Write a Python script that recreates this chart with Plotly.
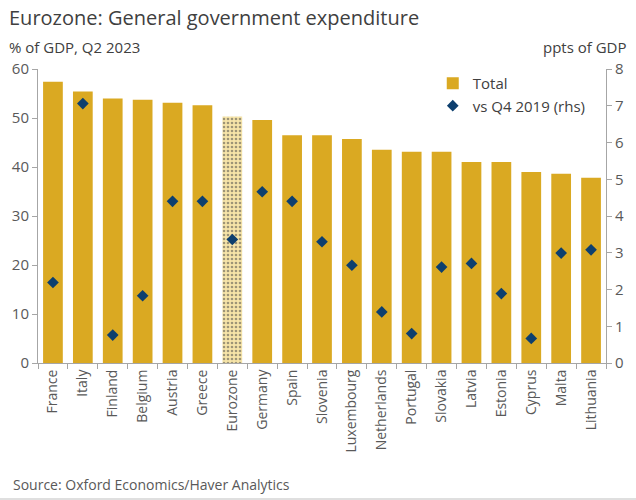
import plotly.graph_objects as go

countries = ["France", "Italy", "Finland", "Belgium", "Austria", "Greece", "Eurozone",
             "Germany", "Spain", "Slovenia", "Luxembourg", "Netherlands", "Portugal",
             "Slovakia", "Latvia", "Estonia", "Cyprus", "Malta", "Lithuania"]
total = [57.4, 55.4, 54.0, 53.7, 53.1, 52.6, 50.3, 49.6, 46.5, 46.5, 45.7, 43.5,
         43.1, 43.1, 41.0, 41.0, 39.0, 38.6, 37.8]
vs_q4_2019 = [2.19, 7.06, 0.76, 1.83, 4.40, 4.40, 3.36, 4.66, 4.40, 3.30, 2.66, 1.39,
              0.80, 2.61, 2.71, 1.89, 0.67, 2.99, 3.08]

GOLD = "#DAA922"
LIGHT = "#F6E4A8"
NAVY = "#0D3F6E"
GRAY = "#595959"
AX = "#A6A6A6"
FONT = "Open Sans"

bar_colors = [LIGHT if c == "Eurozone" else GOLD for c in countries]
shapes = ["." if c == "Eurozone" else "" for c in countries]

fig = go.Figure()
fig.add_trace(go.Bar(
    x=countries, y=total, name="Total", width=0.66,
    marker=dict(color=bar_colors, line=dict(width=0),
                pattern=dict(shape=shapes, fgcolor=GOLD, fillmode="overlay",
                             size=4, solidity=0.35)),
    yaxis="y",
))
fig.add_trace(go.Scatter(
    x=countries, y=vs_q4_2019, name="vs Q4 2019 (rhs)", mode="markers",
    marker=dict(symbol="diamond", color=NAVY, size=9),
    yaxis="y2",
))
fig.update_layout(
    width=636, height=500, autosize=False,
    margin=dict(l=38, r=30, t=69, b=137, autoexpand=False),
    paper_bgcolor="white", plot_bgcolor="white",
    font=dict(family=FONT, color=GRAY, size=14),
    showlegend=True,
    legend=dict(x=0.695, y=1.007, xanchor="left", yanchor="top",
                font=dict(size=15, color="#404040"), bgcolor="rgba(0,0,0,0)",
                tracegroupgap=2),
    xaxis=dict(tickangle=-90, tickson="boundaries", ticks="outside", ticklen=5,
               tickcolor=AX, showline=True, linecolor=AX, linewidth=1,
               tickfont=dict(size=14, color=GRAY), showgrid=False,
               range=[-0.5, 18.5], automargin=False),
    yaxis=dict(range=[0, 60], dtick=10, ticks="outside", ticklen=5, tickcolor=AX,
               showline=True, linecolor=AX, linewidth=1, showgrid=False,
               zeroline=False, tickfont=dict(size=15, color=GRAY), automargin=False),
    yaxis2=dict(range=[0, 8], dtick=1, ticks="outside", ticklen=5, tickcolor=AX,
                showline=True, linecolor=AX, linewidth=1, showgrid=False,
                zeroline=False, overlaying="y", side="right",
                tickfont=dict(size=15, color=GRAY), automargin=False),
)

fig.add_annotation(text="Eurozone: General government expenditure", xref="paper", yref="paper",
                   x=-31/568, y=(363-18)/294, xanchor="left", yanchor="middle",
                   showarrow=False, font=dict(size=20, color="#404040", family=FONT))
fig.add_annotation(text="% of GDP, Q2 2023", xref="paper", yref="paper",
                   x=-31/568, y=(363-47)/294, xanchor="left", yanchor="middle",
                   showarrow=False, font=dict(size=15, color="#404040", family=FONT))
fig.add_annotation(text="ppts of GDP", xref="paper", yref="paper",
                   x=(629-38)/568, y=(363-47)/294, xanchor="right", yanchor="middle",
                   showarrow=False, font=dict(size=15, color="#404040", family=FONT))
fig.add_annotation(text="Source: Oxford Economics/Haver Analytics", xref="paper", yref="paper",
                   x=-27/568, y=(363-484)/294, xanchor="left", yanchor="middle",
                   showarrow=False, font=dict(size=14, color=GRAY, family=FONT))
fig.add_shape(type="line", xref="paper", yref="paper",
              x0=-38/568, x1=(636-38)/568, y0=(363-499)/294, y1=(363-499)/294,
              line=dict(color="#BFBFBF", width=1))

fig.write_html("out.html", config={"responsive": False, "displayModeBar": False},
               post_script="document.body.style.margin='0';document.body.style.overflow='hidden';")
